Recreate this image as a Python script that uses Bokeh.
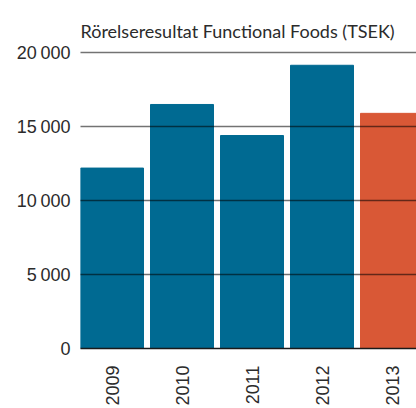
import math
from bokeh.plotting import figure
from bokeh.models import FixedTicker, Range1d, ColumnDataSource
from bokeh.core.properties import value
from bokeh.embed import file_html
from bokeh.resources import INLINE

years = ["2009", "2010", "2011", "2012", "2013"]
values = [12200, 16500, 14400, 19150, 15900]
colors = ["#006a92", "#006a92", "#006a92", "#006a92", "#d95836"]
y_ticks = [0, 5000, 10000, 15000, 20000]
y_tick_labels = ["0", "5\u2009000", "10\u2009000", "15\u2009000", "20\u2009000"]
title_text = "Rörelseresultat Functional Foods (TSEK)"

xs = list(range(len(years)))
src = ColumnDataSource(dict(x=xs, top=values, color=colors))

# frame spans the full height above the axis; the headroom holds the title
Y_END = 23530
X_START, X_END = -0.45, 4.35
p = figure(width=416, height=408, output_backend="svg", toolbar_location=None,
           x_range=Range1d(X_START, X_END), y_range=Range1d(0, Y_END),
           min_border_left=80, min_border_right=0, min_border_top=0, min_border_bottom=58)
p.outline_line_color = None
p.background_fill_color = "white"
p.border_fill_color = "white"

p.vbar(x="x", top="top", width=0.9, bottom=0, color="color", source=src)

p.text(x=[X_START], y=[21500], text=[title_text],
       text_font=value("Lato"), text_font_size="18px", text_color="#2b2b2b",
       text_align="left", text_baseline="alphabetic")

# y axis
p.yaxis.ticker = FixedTicker(ticks=y_ticks)
p.yaxis.major_label_overrides = {t: l for t, l in zip(y_ticks, y_tick_labels)}
p.yaxis.axis_line_color = None
p.yaxis.major_tick_line_color = None
p.yaxis.minor_tick_line_color = None
p.yaxis.major_tick_out = 0
p.yaxis.major_tick_in = 0
p.yaxis.major_label_text_font = "Liberation Sans"
p.yaxis.major_label_text_font_size = "18px"
p.yaxis.major_label_text_color = "#2b2b2b"
p.yaxis.major_label_standoff = 10

# x axis
p.xaxis.ticker = FixedTicker(ticks=xs)
p.xaxis.major_label_overrides = {i: y for i, y in zip(xs, years)}
p.xaxis.axis_line_color = "#1a1a1a"
p.xaxis.axis_line_width = 1.5
p.xaxis.major_tick_line_color = None
p.xaxis.minor_tick_line_color = None
p.xaxis.major_tick_out = 0
p.xaxis.major_tick_in = 0
p.xaxis.major_label_orientation = math.pi / 2
p.xaxis.major_label_text_font = "Liberation Sans"
p.xaxis.major_label_text_font_size = "18px"
p.xaxis.major_label_text_color = "#2b2b2b"
p.xaxis.major_label_standoff = 17

p.xgrid.grid_line_color = None
p.ygrid.grid_line_color = "black"
p.ygrid.grid_line_alpha = 0.55
p.ygrid.grid_line_width = 1.5
p.ygrid.level = "annotation"

open("out.html", "w").write(file_html(p, INLINE))
